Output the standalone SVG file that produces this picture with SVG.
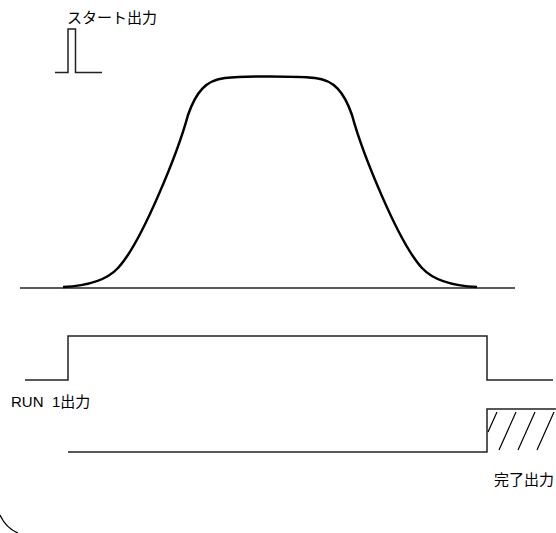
<svg xmlns="http://www.w3.org/2000/svg" width="556" height="533" viewBox="0 0 556 533">
<style>
.t{font-family:"Liberation Sans","Noto Sans CJK JP",sans-serif;font-size:15px;fill:#000}
.s{fill:none;stroke:#222;stroke-width:1.5}
.c{fill:none;stroke:#000;stroke-width:2.5;stroke-linejoin:round}
.h{fill:none;stroke:#000;stroke-width:1.2}
</style>
<rect width="556" height="533" fill="#fff"/>
<g id="start-pulse">
<path class="s" d="M55,72.5 H68 V29 H75.5 V72.5 H102"/>
<text class="t" x="67" y="23">スタート出力</text>
</g>
<g id="speed-curve">
<path class="s" d="M20,288 H515"/>
<path class="c" d="M63,287 C85,286 106,281 118,268 C142,242 178,152 188,115 C196,92 206,80 225,78 C245,76 295,76 315,78 C334,80 344,92 352,115 C362,152 398,242 422,268 C434,281 455,286 477,287"/>
</g>
<g id="run1">
<path class="s" d="M25,380 H68 V336 H487 V380 H553"/>
<text class="t" x="11" y="407">RUN <tspan x="52">1出力</tspan></text>
</g>
<g id="complete">
<path class="s" d="M68,452 H487 V409 H556"/>
<path class="h" d="M497,412 L488,432 M516,412 L499,450 M535,412 L518,450 M554,412 L537,450"/>
<text class="t" x="494" y="485">完了出力</text>
</g>
<g id="connectors">
<path class="h" d="M0,515 Q6,528 18,533"/>
</g>
</svg>
